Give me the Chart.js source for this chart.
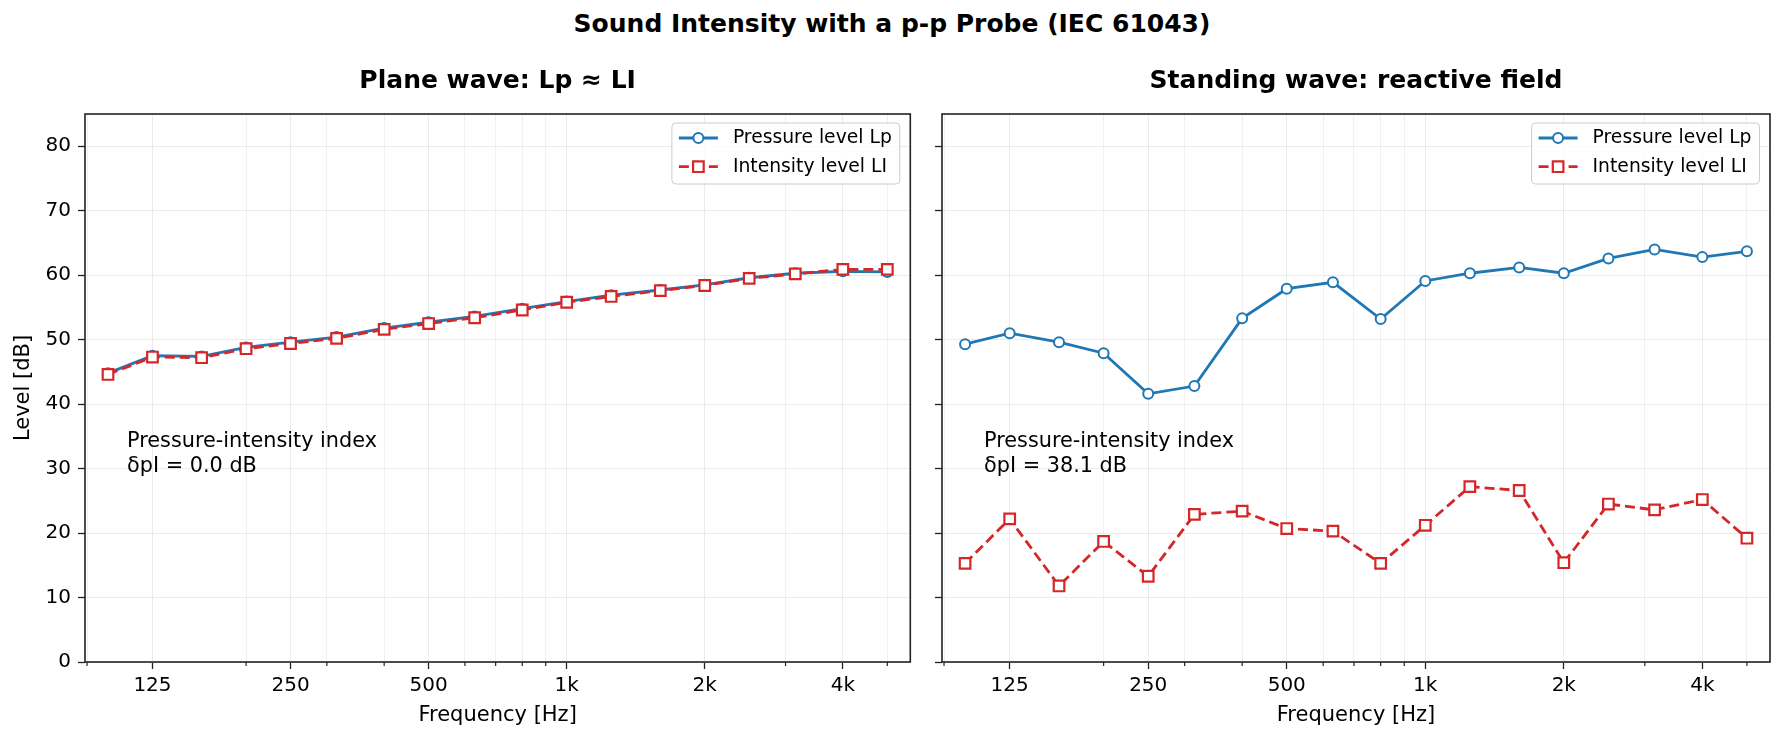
<!DOCTYPE html>
<html>
<head>
<meta charset="utf-8">
<script src="https://cdn.jsdelivr.net/npm/chart.js@4.4.1/dist/chart.umd.min.js"></script>
<style>
  body { margin: 0; background: #fff; }
  #wrap { position: relative; width: 1784px; height: 742px; font-family: "DejaVu Sans", sans-serif; }
  #suptitle { position: absolute; left: 0; top: 9px; width: 1784px; text-align: center;
              font-weight: bold; font-size: 25px; line-height: 30px; color: #000; }
  canvas { position: absolute; top: 0; }
</style>
</head>
<body>
<div id="wrap">
  <div id="suptitle">Sound Intensity with a p-p Probe (IEC 61043)</div>
  <canvas id="left" width="920" height="742" style="left:0"></canvas>
  <canvas id="right" width="864" height="742" style="left:920px"></canvas>
</div>
<script>
// 1/3-octave band centre frequencies
const freqs = [100, 125, 160, 200, 250, 315, 400, 500, 630, 800, 1000, 1250, 1600, 2000, 2500, 3150, 4000, 5000];

const planeLp = [44.8, 47.5, 47.4, 48.8, 49.6, 50.4, 51.8, 52.7, 53.6, 54.8, 55.9, 56.9, 57.7, 58.5, 59.6, 60.3, 60.6, 60.5];
const planeLI = [44.6, 47.3, 47.2, 48.6, 49.4, 50.2, 51.6, 52.5, 53.4, 54.6, 55.8, 56.7, 57.6, 58.4, 59.5, 60.2, 60.9, 60.9];

const standLp = [49.3, 51.0, 49.6, 47.9, 41.6, 42.8, 53.3, 57.9, 58.9, 53.2, 59.1, 60.3, 61.2, 60.3, 62.6, 64.0, 62.8, 63.7];
const standLI = [15.3, 22.2, 11.8, 18.7, 13.3, 22.9, 23.4, 20.7, 20.3, 15.3, 21.2, 27.2, 26.6, 15.4, 24.5, 23.6, 25.2, 19.2];

const xTicks = [90, 125, 200, 250, 300, 400, 500, 600, 700, 800, 900, 1000, 2000, 3000, 4000, 5000];
const majorLabels = { 125: '125', 250: '250', 500: '500', 1000: '1k', 2000: '2k', 4000: '4k' };
const yTicks = [0, 10, 20, 30, 40, 50, 60, 70, 80];

const BLUE = '#1f77b4';
const RED = '#d62728';
const FONT = 'DejaVu Sans';

Chart.defaults.font.family = FONT;
Chart.defaults.color = '#000';

const isMajor = v => majorLabels[v] !== undefined;

const decor = {
  id: 'decor',
  afterDraw(chart, args, o) {
    const { ctx, chartArea: a, scales } = chart;
    ctx.save();

    // minor x ticks
    ctx.strokeStyle = '#222';
    ctx.lineWidth = 1.2;
    xTicks.forEach(v => {
      if (isMajor(v)) return;
      const px = scales.x.getPixelForValue(v);
      ctx.beginPath();
      ctx.moveTo(px, a.bottom);
      ctx.lineTo(px, a.bottom + 4);
      ctx.stroke();
    });

    // frame
    ctx.lineWidth = 1.6;
    ctx.strokeRect(a.left, a.top, a.right - a.left, a.bottom - a.top);

    // index note
    ctx.fillStyle = '#000';
    ctx.font = '20.8px "' + FONT + '"';
    ctx.textBaseline = 'middle';
    ctx.textAlign = 'left';
    ctx.fillText('Pressure-intensity index', a.left + 42, a.top + 328);
    ctx.fillText(o.note, a.left + 42, a.top + 353);

    // legend
    ctx.font = '18.75px "' + FONT + '"';
    const sets = chart.data.datasets;
    const tw = Math.max(...sets.map(d => ctx.measureText(d.label).width));
    const bw = 61 + tw + 8;
    const bh = 61;
    const bx = a.right - 10.5 - bw;
    const by = a.top + 9;
    ctx.beginPath();
    ctx.roundRect(bx, by, bw, bh, 4);
    ctx.fillStyle = 'rgba(255,255,255,0.8)';
    ctx.fill();
    ctx.strokeStyle = '#cccccc';
    ctx.lineWidth = 1;
    ctx.stroke();

    sets.forEach((d, i) => {
      const cy = by + 15 + i * 28.7;
      ctx.strokeStyle = d.borderColor;
      ctx.lineWidth = d.borderWidth;
      ctx.setLineDash(d.borderDash || []);
      ctx.beginPath();
      ctx.moveTo(bx + 7, cy);
      ctx.lineTo(bx + 46, cy);
      ctx.stroke();
      ctx.setLineDash([]);
      const mx = bx + 26.5;
      ctx.fillStyle = '#fff';
      ctx.lineWidth = d.pointBorderWidth;
      ctx.beginPath();
      if (d.pointStyle === 'rect') {
        const s = d.pointRadius * Math.SQRT1_2;
        ctx.rect(mx - s, cy - s, 2 * s, 2 * s);
      } else {
        ctx.arc(mx, cy, d.pointRadius, 0, Math.PI * 2);
      }
      ctx.fill();
      ctx.stroke();
      ctx.fillStyle = '#000';
      ctx.fillText(d.label, bx + 61, cy);
    });

    ctx.restore();
  }
};

function makeChart(id, title, lp, li, yWidth, padRight, showY, note) {
  return new Chart(document.getElementById(id), {
    type: 'line',
    data: {
      datasets: [
        {
          label: 'Pressure level Lp',
          data: freqs.map((f, i) => ({ x: f, y: lp[i] })),
          order: 1,
          borderColor: BLUE,
          borderWidth: 2.8,
          pointStyle: 'circle',
          pointRadius: 5,
          pointBackgroundColor: '#fff',
          pointBorderColor: BLUE,
          pointBorderWidth: 2,
          tension: 0
        },
        {
          label: 'Intensity level LI',
          data: freqs.map((f, i) => ({ x: f, y: li[i] })),
          order: 0,
          borderColor: RED,
          borderWidth: 2.8,
          borderDash: [10, 5],
          pointStyle: 'rect',
          pointRadius: 7.5,
          pointBackgroundColor: '#fff',
          pointBorderColor: RED,
          pointBorderWidth: 2.2,
          tension: 0
        }
      ]
    },
    options: {
      responsive: false,
      animation: false,
      devicePixelRatio: 1,
      layout: { padding: { left: 0, right: padRight, top: 0, bottom: 0 } },
      plugins: {
        legend: { display: false },
        tooltip: { enabled: false },
        title: {
          display: true,
          text: title,
          fullSize: false,
          color: '#000',
          font: { size: 25, weight: 'bold', family: FONT },
          padding: { top: 66, bottom: 18 }
        },
        decor: { note: note }
      },
      scales: {
        x: {
          type: 'logarithmic',
          min: 89.09,
          max: 5612,
          afterBuildTicks: s => { s.ticks = xTicks.map(v => ({ value: v })); },
          afterFit: s => { s.height = 80; },
          border: { display: false },
          grid: {
            color: c => (c.tick && isMajor(c.tick.value)) ? '#ebebeb' : '#f0f0f0',
            borderDash: c => (c.tick && isMajor(c.tick.value)) ? [] : [1.5, 3],
            lineWidth: 1,
            tickLength: 7,
            tickWidth: 1.3,
            tickColor: c => (c.tick && isMajor(c.tick.value)) ? '#222' : 'rgba(0,0,0,0)'
          },
          ticks: {
            autoSkip: false,
            maxRotation: 0,
            padding: 5,
            color: '#000',
            font: { size: 20, family: FONT },
            callback: v => majorLabels[v] || ''
          },
          title: {
            display: true,
            text: 'Frequency [Hz]',
            color: '#000',
            font: { size: 21, family: FONT },
            padding: { top: 0, bottom: 14 }
          }
        },
        y: {
          min: 0,
          max: 85,
          afterBuildTicks: s => { s.ticks = yTicks.map(v => ({ value: v })); },
          afterFit: s => { s.width = yWidth; },
          border: { display: false },
          grid: {
            color: '#ebebeb',
            lineWidth: 1,
            tickLength: 7,
            tickWidth: 1.3,
            tickColor: '#222'
          },
          ticks: {
            display: showY,
            padding: 7,
            color: '#000',
            font: { size: 20, family: FONT }
          },
          title: {
            display: showY,
            text: 'Level [dB]',
            color: '#000',
            font: { size: 21, family: FONT },
            padding: { top: 11, bottom: 0 }
          }
        }
      }
    },
    plugins: [decor]
  });
}

makeChart('left', 'Plane wave: Lp \u2248 LI', planeLp, planeLI, 85, 7, true, '\u03B4pI = 0.0 dB');
makeChart('right', 'Standing wave: reactive field', standLp, standLI, 22, 14, false, '\u03B4pI = 38.1 dB');
</script>
</body>
</html>
